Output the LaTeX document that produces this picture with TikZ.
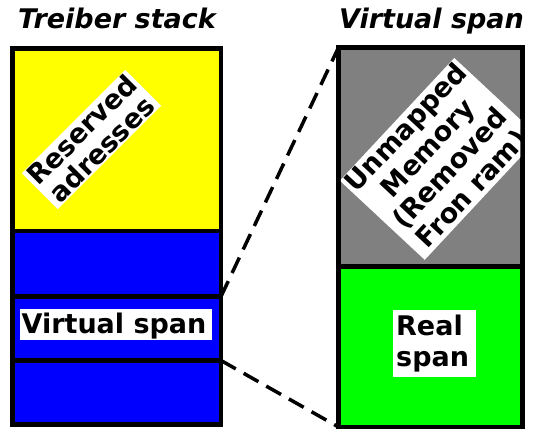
\documentclass[tikz,border=0pt]{standalone}
\usepackage{fontspec}
\setmainfont{DejaVu Sans}
\usepackage{xcolor}
\usepackage{tikz}
\usetikzlibrary{positioning}
\definecolor{Ink}{HTML}{000000}
\definecolor{StackYellow}{HTML}{FFFF00}
\definecolor{StackBlue}{HTML}{0000FF}
\definecolor{SpanGrey}{HTML}{808080}
\definecolor{SpanGreen}{HTML}{00FF00}

\begin{document}
\begin{tikzpicture}[x=1pt,y=-1pt]
  \useasboundingbox (0,0) rectangle (549,441);

  \tikzset{
    memCell/.style={
      draw=Ink,
      line width=4.5pt,
      outer sep=0pt,
      inner sep=0pt
    },
    memTitle/.style={
      font=\fontsize{27}{30}\selectfont\bfseries\itshape,
      text=Ink,
      inner sep=0pt,
      anchor=base
    },
    memLabel/.style={
      fill=white,
      font=\fontsize{27}{29}\selectfont\bfseries,
      text=Ink,
      inner xsep=2pt,
      inner ysep=1pt,
      align=center
    },
    memZoom/.style={
      draw=Ink,
      line width=3.5pt,
      dash pattern=on 17pt off 9pt
    }
  }

  % Treiber stack: reserved range on top, then three spans.
  \node[memCell,fill=StackYellow,minimum width=208.5pt,minimum height=182.5pt]
    (reserved) at (116.75,139.75) {};
  \node[memCell,fill=StackBlue,minimum width=208.5pt,minimum height=65.5pt]
    (freeA) at (116.75,263.75) {};
  \node[memCell,fill=StackBlue,minimum width=208.5pt,minimum height=64pt]
    (vspan) at (116.75,328.5) {};
  \node[memCell,fill=StackBlue,minimum width=208.5pt,minimum height=64pt]
    (freeB) at (116.75,392.5) {};

  % One virtual span, blown up on the right.
  \node[memCell,fill=SpanGrey,minimum width=184pt,minimum height=219pt]
    (unmapped) at (430.5,157) {};
  \node[memCell,fill=SpanGreen,minimum width=184pt,minimum height=160.5pt]
    (realspan) at (430.5,346.75) {};

  \node[memTitle] (stacktitle) at (117,29) {Treiber stack};
  \node[memTitle] (spantitle)  at (431.5,29) {Virtual span};

  \node[memLabel,rotate=45,font=\fontsize{27}{28}\selectfont\bfseries]
    (reservedtext) at (91.5,139.5) {Reserved\\adresses};
  \node[memLabel,inner ysep=0pt,text height=24.6pt,text depth=6.3pt]
    (vspantext) at (116,324.5) {Virtual span\kern4pt};
  \node[memLabel,align=left,text width=77pt,inner xsep=3pt,inner ysep=5pt,
        font=\fontsize{27}{31.5}\selectfont\bfseries]
    (realtext) at (434.7,343.4) {Real\\span};

  % the rotated label runs past the grey cell, so cut it at the border
  \begin{scope}
    \clip ([shift={(2.25,2.25)}]unmapped.north west)
      rectangle ([shift={(-2.25,-2.25)}]unmapped.south east);
    \node[memLabel,rotate=47,font=\fontsize{27}{30}\selectfont\bfseries]
      (unmappedtext) at (439.5,158.9) {Unmapped\\Memory\\(Removed\\Fron ram)};
  \end{scope}

  \draw[memZoom] (vspan.north east) -- (unmapped.north west);
  \draw[memZoom] (vspan.south east) -- (realspan.south west);
\end{tikzpicture}
\end{document}
